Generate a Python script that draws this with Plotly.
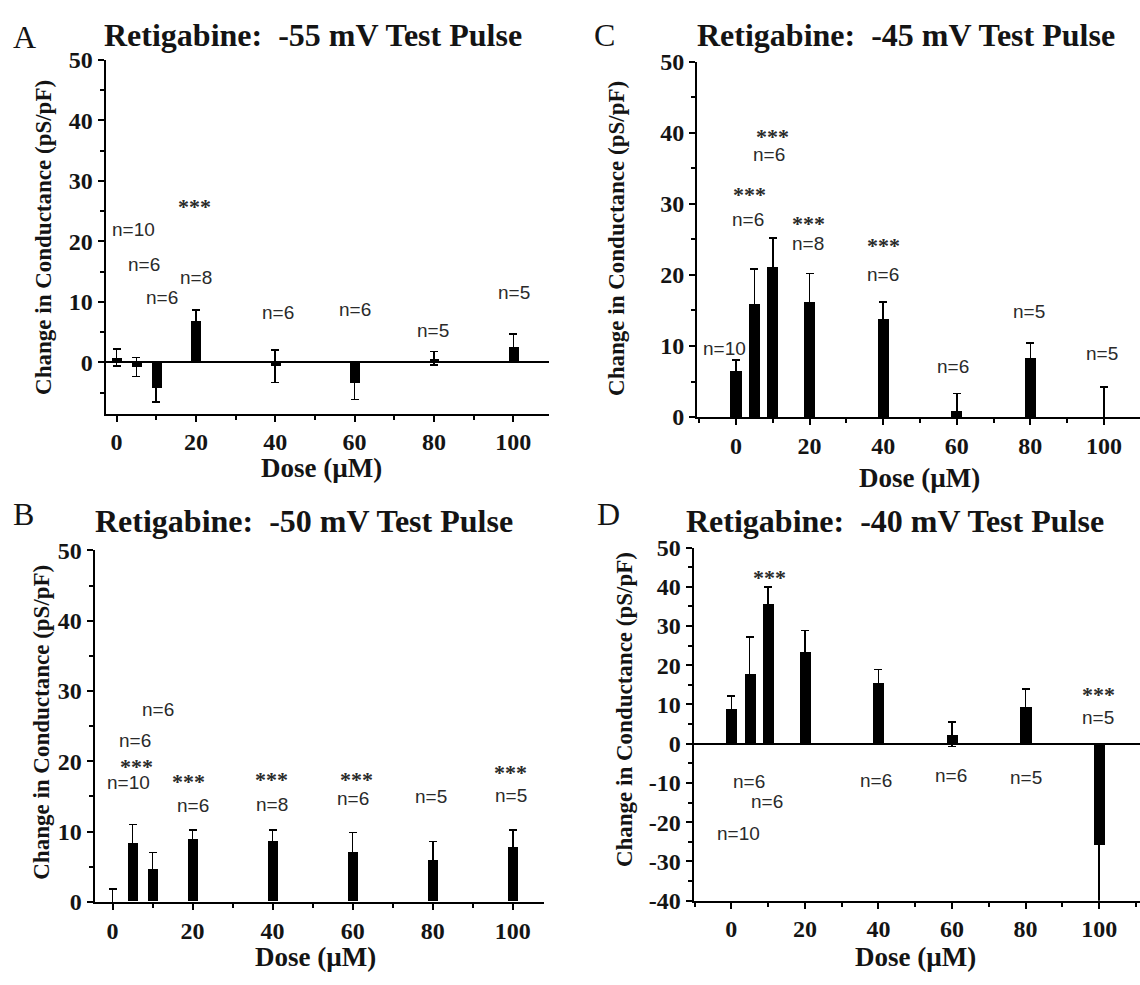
import plotly.graph_objects as go

# ---------------- data ----------------
doses = [0, 5, 10, 20, 40, 60, 80, 100]

A_mean = [0.8, -0.75, -4.2, 6.9, -0.6, -3.4, 0.7, 2.6]
A_err = [1.4, 1.55, 2.3, 1.8, 2.7, 2.7, 1.1, 2.1]

B_mean = [0.0, 8.3, 4.65, 8.95, 8.6, 7.1, 5.85, 7.7]
B_err = [1.8, 2.7, 2.35, 1.25, 1.6, 2.8, 2.75, 2.5]

C_mean = [6.5, 15.9, 21.1, 16.3, 13.8, 0.9, 8.3, 0.05]
C_err = [1.5, 4.9, 4.1, 3.9, 2.4, 2.4, 2.1, 4.2]

D_mean = [9.0, 17.9, 35.7, 23.4, 15.7, 2.4, 9.6, -25.7]
D_err = [3.2, 9.3, 4.3, 5.4, 3.2, 3.1, 4.4, 16.0]

A_lab = ["n=10", "n=6", "n=6", "***", "n=8", "n=6", "n=6", "n=5", "n=5"]
A_lx = [4.3, 6.8, 11.4, 19.6, 20.1, 40.7, 60.0, 79.7, 100.3]
A_ly = [22.0, 16.2, 10.8, 26.4, 14.0, 8.2, 8.7, 5.2, 11.6]

B_lab = ["n=6", "n=6", "***", "n=10", "***", "n=6", "***", "n=8", "***", "n=6", "n=5", "***", "n=5"]
B_lx = [11.4, 5.5, 6.0, 4.1, 19.1, 20.1, 39.6, 39.9, 61.0, 60.0, 79.6, 99.5, 99.5]
B_ly = [27.4, 23.0, 19.9, 17.0, 17.7, 13.7, 18.0, 13.9, 18.0, 14.7, 15.0, 19.0, 15.2]

C_lab = ["***", "n=6", "***", "n=6", "***", "n=8", "***", "n=6", "n=10", "n=6", "n=5", "n=5"]
C_lx = [9.8, 8.9, 3.6, 3.3, 19.6, 19.6, 40.0, 40.0, -3.0, 59.0, 79.6, 99.4]
C_ly = [40.0, 37.0, 31.9, 27.8, 27.8, 24.4, 24.7, 20.1, 9.6, 7.1, 14.8, 9.0]

D_lab = ["***", "***", "n=5", "n=6", "n=6", "n=10", "n=6", "n=6", "n=5"]
D_lx = [10.4, 99.8, 99.8, 4.8, 9.8, 1.9, 39.3, 59.7, 80.0]
D_ly = [43.5, 13.5, 6.7, -9.6, -14.8, -23.0, -9.4, -8.1, -8.6]

titles = ["Retigabine:  -55 mV Test Pulse", "Retigabine:  -50 mV Test Pulse",
          "Retigabine:  -45 mV Test Pulse", "Retigabine:  -40 mV Test Pulse"]
letters = ["A", "B", "C", "D"]
x_ticks = [0, 20, 40, 60, 80, 100]
y_ticks_A = [0, 10, 20, 30, 40, 50]
y_ticks_D = [-40, -30, -20, -10, 0, 10, 20, 30, 40, 50]
x_title = "Dose (\u00b5M)"
y_title = "Change in Conductance (pS/pF)"

# ---------------- layout helpers ----------------
W, H = 1140, 985
def fx(p):
    return p / W
def fy(p):
    return 1 - p / H

SERIF = "Liberation Serif"
SANS = "Liberation Sans"
INK = "#141414"

panels = [
    dict(mean=A_mean, err=A_err, lab=A_lab, lx=A_lx, ly=A_ly, bw=2.5, yt_vals=y_ticks_A,
         xd=(105.5, 549), yd=(411.5, 48), xr=(-2.8, 109.0), yr=(-8.45, 50),
         zero=True, title=(313, 23), letter=(24, 25), xt=(321, 467), yt=(44, 231)),
    dict(mean=B_mean, err=B_err, lab=B_lab, lx=B_lx, ly=B_ly, bw=2.5, yt_vals=y_ticks_A,
         xd=(94.5, 543.6), yd=(913, 552), xr=(-4.5, 107.7), yr=(0, 50),
         zero=False, title=(304, 522), letter=(23, 515), xt=(316, 970), yt=(42, 729)),
    dict(mean=C_mean, err=C_err, lab=C_lab, lx=C_lx, ly=C_ly, bw=3.0, yt_vals=y_ticks_A,
         xd=(697, 1140), yd=(415, 50), xr=(-10.6, 109.8), yr=(0, 50),
         zero=False, title=(906, 23), letter=(604, 23), xt=(919, 478), yt=(617, 232)),
    dict(mean=D_mean, err=D_err, lab=D_lab, lx=D_lx, ly=D_ly, bw=3.0, yt_vals=y_ticks_D,
         xd=(693.6, 1140), yd=(911.7, 549), xr=(-10.25, 111.1), yr=(-40, 50),
         zero=True, title=(895, 522), letter=(608, 515), xt=(915, 970), yt=(624, 716)),
]

fig = go.Figure()
annotations = []
layout_axes = {}

for i, p in enumerate(panels, start=1):
    xa = "x" if i == 1 else f"x{i}"
    ya = "y" if i == 1 else f"y{i}"
    fig.add_trace(go.Bar(
        x=doses, y=p["mean"], width=p["bw"], xaxis=xa, yaxis=ya,
        marker=dict(color="black", line=dict(width=0)),
        error_y=dict(type="data", array=p["err"], visible=True,
                     color="black", thickness=1.6, width=4),
        showlegend=False, hoverinfo="skip"))

    xkey = "xaxis" if i == 1 else f"xaxis{i}"
    ykey = "yaxis" if i == 1 else f"yaxis{i}"
    layout_axes[xkey] = dict(
        domain=[fx(p["xd"][0]), fx(p["xd"][1])], range=list(p["xr"]),
        anchor=ya, showline=True, linecolor="black", linewidth=2,
        showgrid=False, zeroline=False,
        tickmode="array", tickvals=x_ticks,
        ticks="outside", ticklen=6, tickwidth=1.6, tickcolor="black",
        minor=dict(tickmode="linear", tick0=10, dtick=20, ticks="outside",
                   ticklen=4, tickwidth=1.6, tickcolor="black", showgrid=False),
        tickfont=dict(family=SERIF, size=24, color=INK, weight="bold"),
        fixedrange=True)
    layout_axes[ykey] = dict(
        domain=[fy(p["yd"][0]), fy(p["yd"][1])], range=list(p["yr"]),
        anchor=xa, showline=True, linecolor="black", linewidth=2,
        showgrid=False, zeroline=p["zero"], zerolinecolor="black", zerolinewidth=2,
        tickmode="array", tickvals=p["yt_vals"],
        ticktext=[str(v) for v in p["yt_vals"]],
        ticks="outside", ticklen=6, tickwidth=1.6, tickcolor="black",
        minor=dict(tickmode="linear", tick0=5, dtick=10, ticks="outside",
                   ticklen=4, tickwidth=1.6, tickcolor="black", showgrid=False),
        tickfont=dict(family=SERIF, size=24, color=INK, weight="bold"),
        fixedrange=True)

    # n= labels and significance stars
    for t, x, y in zip(p["lab"], p["lx"], p["ly"]):
        star = t.startswith("*")
        annotations.append(dict(
            x=x, y=y, xref=xa, yref=ya, text=t, showarrow=False,
            xanchor="center", yanchor="middle", yshift=-4 if star else 0,
            font=dict(family=SERIF if star else SANS, size=22 if star else 19,
                      color="#2a2a2a", weight="bold" if star else "normal")))

    # panel title
    annotations.append(dict(
        x=fx(p["title"][0]), y=fy(p["title"][1]), xref="paper", yref="paper",
        text=titles[i - 1], showarrow=False, xanchor="center", yanchor="middle",
        font=dict(family=SERIF, size=32, color=INK, weight="bold")))
    # panel letter
    annotations.append(dict(
        x=fx(p["letter"][0]), y=fy(p["letter"][1]), xref="paper", yref="paper",
        text=letters[i - 1], showarrow=False, xanchor="center", yanchor="middle",
        font=dict(family=SERIF, size=32, color=INK)))
    # x axis title
    annotations.append(dict(
        x=fx(p["xt"][0]), y=fy(p["xt"][1]), xref="paper", yref="paper",
        text=x_title, showarrow=False, xanchor="center", yanchor="middle",
        font=dict(family=SERIF, size=27, color=INK, weight="bold")))
    # y axis title
    annotations.append(dict(
        x=fx(p["yt"][0]), y=fy(p["yt"][1]), xref="paper", yref="paper",
        text=y_title, showarrow=False, textangle=-90,
        xanchor="center", yanchor="middle",
        font=dict(family=SERIF, size=23, color=INK, weight="bold")))

fig.update_layout(
    width=W, height=H, margin=dict(l=0, r=0, t=0, b=0),
    paper_bgcolor="white", plot_bgcolor="white",
    bargap=0, annotations=annotations, **layout_axes)

fig.write_html("out.html")
